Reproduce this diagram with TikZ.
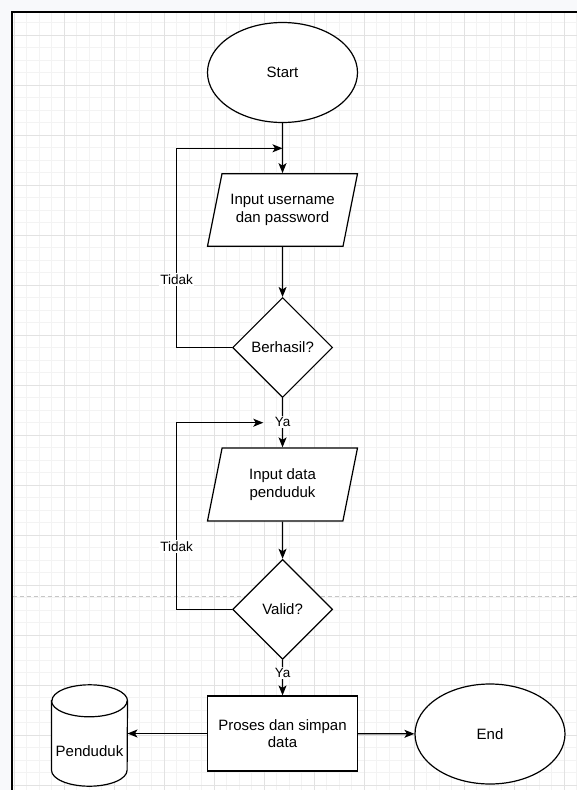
\documentclass[tikz,border=0pt]{standalone}
\usepackage{fontspec}
\setmainfont{Liberation Sans}
\usetikzlibrary{shapes.geometric,arrows.meta,positioning}
\definecolor{pagebg}{HTML}{F8F9FB}
\definecolor{gridmin}{HTML}{F3F3F3}
\definecolor{gridmaj}{HTML}{E2E2E2}
\tikzset{every picture/.style={font issue=\fontsize{15}{17.5}},
         font issue/.style={execute at begin picture={#1\selectfont}}
        }
\tikzstyle{terminal}=[draw,ellipse,fill=white,minimum width=150,minimum height=100,inner sep=0,line width=1.2]
\tikzstyle{io}=[draw,trapezium,trapezium left angle=78.7,trapezium right angle=101.3,
  trapezium stretches body,fill=white,minimum width=150,inner xsep=0,inner ysep=20.8,align=center,line width=1.2]
\tikzstyle{decision}=[draw,diamond,fill=white,minimum width=100,minimum height=100,inner sep=0,line width=1.2]
\tikzstyle{process}=[draw,rectangle,fill=white,minimum width=150,minimum height=75,align=center,line width=1.2]
\tikzstyle{store}=[rectangle,minimum width=75.6,minimum height=101,inner sep=0]
\tikzstyle{flow}=[draw,line width=1.2,-{Stealth[length=10,width=8,inset=2.5]}]
\tikzstyle{lbl}=[fill=white,inner sep=1.5,font=\fontsize{13.5}{16}\selectfont]
\tikzstyle{gmin}=[gridmin,line width=0.8]
\tikzstyle{gmaj}=[gridmaj,line width=0.8]

\begin{document}
\begin{tikzpicture}[x=1pt,y=-1pt]
	\useasboundingbox (0,0) rectangle (577,790);
	\fill[pagebg] (0,0) rectangle (577,790);
	\fill[white] (11.5,11.5) rectangle (577,790);
	
	% grid
	\begin{scope}
	\clip (12.5,12.5) rectangle (577,790);
	\foreach \x in {14.3,26.8,...,577} \draw[gmin] (\x,12.5) -- (\x,790);
	\foreach \y in {22.5,35,...,790} \draw[gmin] (12.5,\y) -- (577,\y);
	\foreach \x in {14.3,64.3,...,577} \draw[gmaj] (\x,12.5) -- (\x,790);
	\foreach \y in {35,85,...,790} \draw[gmaj] (12.5,\y) -- (577,\y);
	\draw[gray!45,line width=1,dash pattern=on 4pt off 3pt] (12.5,596) -- (577,596);
	\end{scope}
	\draw[line width=2] (11.5,790) -- (11.5,11.5) -- (577,11.5);
	
	\node[terminal] (st) at (282.5,72.5) {Start};
	\node[io] (in1) at (282.5,210) {Input username\\dan password};
	\node[decision] (br) at (282.6,347.5) {Berhasil?};
	\node[io] (in2) at (282.5,484.5) {Input data\\penduduk};
	\node[decision] (vd) at (282.6,609.3) {Valid?};
	\node[process] (pr) at (282.5,733.5) {Proses dan simpan\\data};
	\node[store] (pd) at (89.5,735.5) {};
	\node[terminal] (en) at (490,734) {End};
	
	% cylinder
	\draw[line width=1.2,fill=white] ([yshift=-16pt]pd.north west) -- ([yshift=16pt]pd.south west)
	  arc[start angle=180,end angle=360,x radius=37.8pt,y radius=16pt]
	  -- ([yshift=-16pt]pd.north east)
	  arc[start angle=0,end angle=180,x radius=37.8pt,y radius=16pt] -- cycle;
	\draw[line width=1.2] ([yshift=-16pt]pd.north west)
	  arc[start angle=180,end angle=360,x radius=37.8pt,y radius=16pt];
	\node (pdt) at ([yshift=-16pt]pd.center) {Penduduk};
	
	\coordinate (j1) at (282.5,148.3);
	\coordinate (j2) at (263.3,422.7);
	
	\path[flow] (st) -- (in1);
	\path[flow] (in1) -- (br);
	\path[flow] (br) -- node[lbl,pos=0.48] (ya1) {Ya} (in2);
	\path[flow] (in2) -- (vd);
	\path[flow] (vd) -- node[lbl,pos=0.37] (ya2) {Ya} (pr);
	\path[flow] (pr) -- (pr -| pd.east);
	\path[flow] (pr) -- (en);
	
	\path[flow] (br.west) -- ++(-55.4,0) |- node[lbl,pos=0.17] {Tidak} (j1);
	\path[flow] (vd.west) -- ++(-55.4,0) |- node[lbl,pos=0.168] {Tidak} (j2);
\end{tikzpicture}
\end{document}
